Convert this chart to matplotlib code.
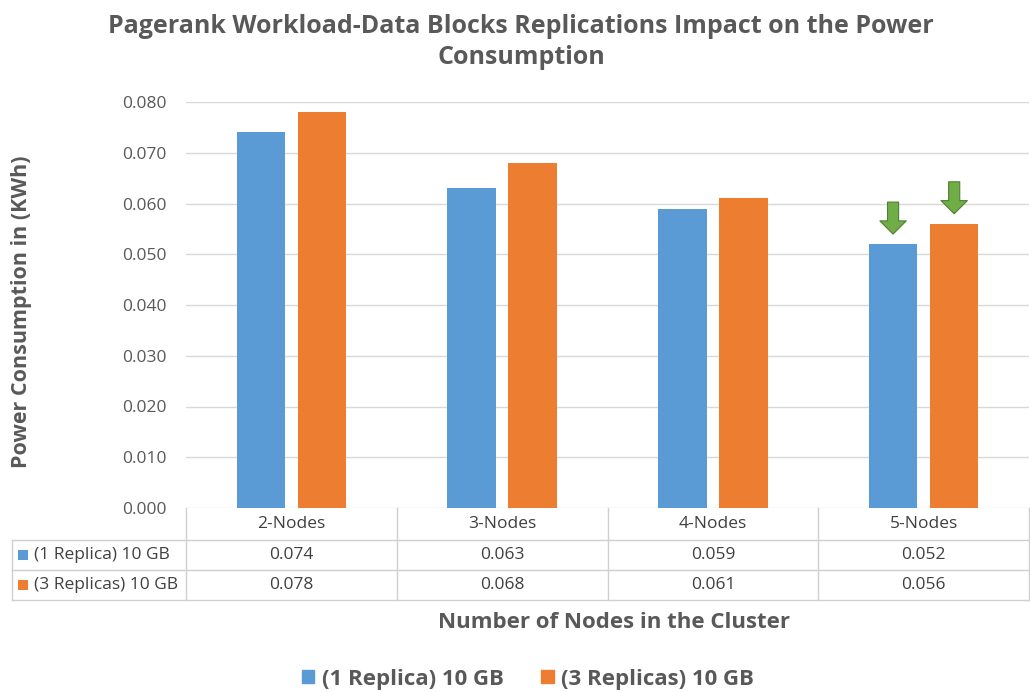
import matplotlib
matplotlib.use('Agg')
import matplotlib.pyplot as plt
import numpy as np
from matplotlib.lines import Line2D
from matplotlib.patches import Rectangle
import matplotlib.transforms as mtransforms

# data
categories = ['2-Nodes', '3-Nodes', '4-Nodes', '5-Nodes']
series_names = ['(1 Replica) 10 GB', '(3 Replicas) 10 GB']
one_replica = [0.074, 0.063, 0.059, 0.052]
three_replicas = [0.078, 0.068, 0.061, 0.056]
yticks = [0.000, 0.010, 0.020, 0.030, 0.040, 0.050, 0.060, 0.070, 0.080]
arrow_cat = 3  # 5-Nodes gets the green arrows

blue = '#5B9BD5'
orange = '#ED7D31'
green = '#70AD47'
gray_txt = '#595959'
line_col = '#D0D0D0'

plt.rcParams['font.family'] = ['Open Sans', 'DejaVu Sans']

W, H = 1030, 692
fig = plt.figure(figsize=(W / 100, H / 100), dpi=100)

def fx(px):
    return px / W

def fy(py):
    return 1 - py / H

ax = fig.add_axes([fx(186), fy(508), fx(1029) - fx(186), fy(102) - fy(508)])

x = np.arange(len(categories))
off, bw = 0.145, 0.23
ax.bar(x - off, one_replica, bw, color=blue, zorder=3)
ax.bar(x + off, three_replicas, bw, color=orange, zorder=3)

ax.set_xlim(-0.5, len(categories) - 0.5)
ax.set_ylim(0, 0.08)
ax.set_yticks(yticks)
ax.set_yticklabels(['%.3f' % v for v in yticks], fontsize=12.5, color=gray_txt)
ax.tick_params(axis='y', length=0, pad=14)
ax.set_xticks([])
for s in ax.spines.values():
    s.set_visible(False)
ax.grid(axis='y', color='#D9D9D9', lw=1, zorder=0)
ax.set_axisbelow(True)

# green arrows above the 5-node bars
for xi, v in [(arrow_cat - off, one_replica[arrow_cat]), (arrow_cat + off, three_replicas[arrow_cat])]:
    ax.annotate('', xy=(xi, v), xycoords='data', xytext=(0, 42), textcoords='offset pixels',
                arrowprops=dict(arrowstyle='simple,head_length=0.95,head_width=1.9,tail_width=0.8',
                                fc=green, ec='#507E32', lw=0.8, shrinkA=0, shrinkB=7.2,
                                mutation_scale=10))

# data table under the axes
blend = mtransforms.blended_transform_factory(ax.transData, fig.transFigure)
rows_y = [508, 540, 570, 600]
for b in np.arange(-0.5, len(categories), 1.0):
    fig.add_artist(Line2D([b, b], [fy(508), fy(600)], transform=blend, color=line_col, lw=1))
fig.add_artist(Line2D([fx(12), fx(12)], [fy(540), fy(600)], transform=fig.transFigure, color=line_col, lw=1))
for ry in rows_y[1:]:
    fig.add_artist(Line2D([fx(12), fx(1029)], [fy(ry), fy(ry)], transform=fig.transFigure, color=line_col, lw=1))

for i, c in enumerate(categories):
    fig.text(i, fy(524), c, transform=blend, ha='center', va='center', fontsize=12.5, color='#404040')

for r, (name, vals, col) in enumerate(zip(series_names, [one_replica, three_replicas], [blue, orange])):
    yc = fy((rows_y[r + 1] + rows_y[r + 2]) / 2)
    fig.add_artist(Rectangle((fx(18), yc - 5 / H), 10 / W, 10 / H, transform=fig.transFigure,
                             color=col, lw=0))
    fig.text(fx(34), yc, name, ha='left', va='center', fontsize=12.5, color='#404040')
    for i, v in enumerate(vals):
        fig.text(i, yc, '%.3f' % v, transform=blend, ha='center', va='center', fontsize=12.5, color='#404040')

# titles and labels
fig.text(fx(521), fy(42), 'Pagerank Workload-Data Blocks Replications Impact on the Power\nConsumption',
         ha='center', va='center', fontsize=18, fontweight='bold', color=gray_txt, linespacing=1.3)
fig.text(fx(22), fy(312), 'Power Consumption in (KWh)', rotation=90, ha='center', va='center',
         fontsize=15.5, fontweight='bold', color=gray_txt)
fig.text(fx(614), fy(622), 'Number of Nodes in the Cluster', ha='center', va='center',
         fontsize=16, fontweight='bold', color=gray_txt)

handles = [Rectangle((0, 0), 1, 1, color=blue), Rectangle((0, 0), 1, 1, color=orange)]
leg = fig.legend(handles, series_names, loc='center', bbox_to_anchor=(fx(528), fy(679)), ncol=2,
                 frameon=False, handlelength=0.55, handleheight=0.55, handletextpad=0.35, columnspacing=1.7,
                 prop={'size': 16, 'weight': 'bold'})
for t in leg.get_texts():
    t.set_color(gray_txt)

fig.savefig('out.png', dpi=100)
